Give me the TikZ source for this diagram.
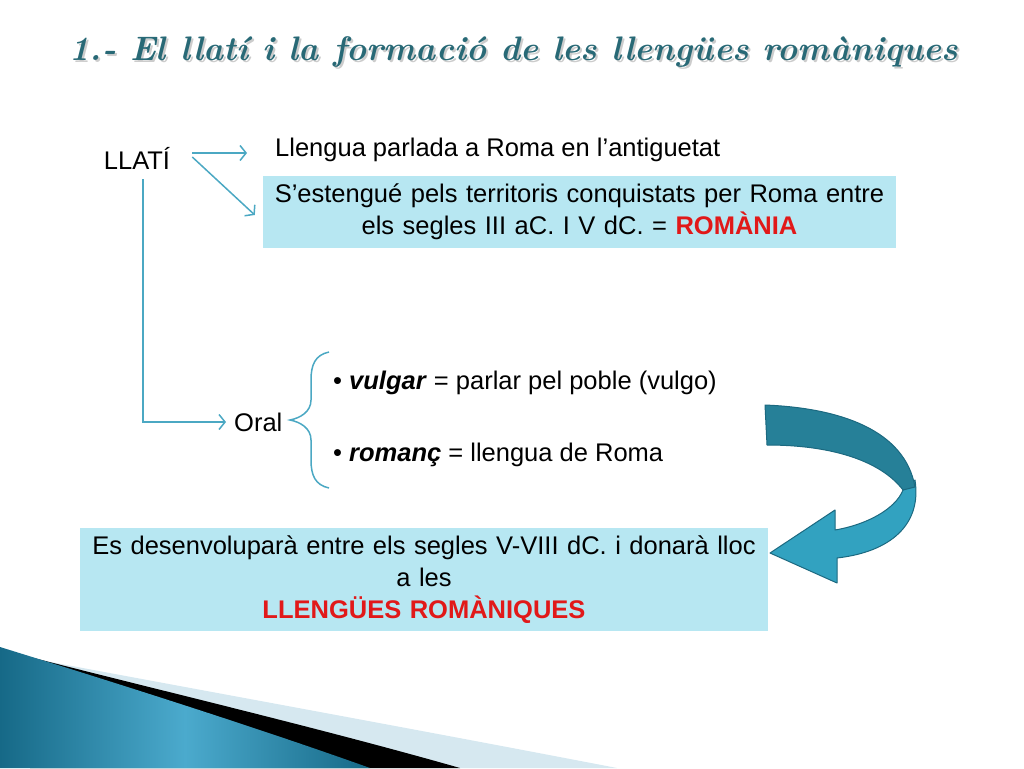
\documentclass[tikz,border=0pt]{standalone}
\usepackage{fontspec}
\setsansfont{Liberation Sans}
\usepackage{xcolor}
\usepackage{tikz}
\usetikzlibrary{positioning,arrows.meta}
\definecolor{titol}{RGB}{40,105,118}
\definecolor{fletxa}{RGB}{75,168,195}
\definecolor{caixa}{RGB}{183,231,242}
\definecolor{vermell}{RGB}{225,25,25}
\definecolor{cinta}{RGB}{38,128,152}
\definecolor{cintaclar}{RGB}{50,162,192}
\definecolor{vora}{RGB}{28,105,128}
\definecolor{onaclar}{RGB}{214,232,240}
\definecolor{onafosc}{RGB}{22,105,135}
\definecolor{onamig}{RGB}{75,170,205}
\newcommand{\destaca}[1]{\textcolor{vermell}{\textbf{#1}}}
\tikzstyle{lletra}=[font=\sffamily\fontsize{25.5}{32}\selectfont, inner sep=0pt]
\tikzstyle{quadre}=[lletra, fill=caixa, align=center]
\tikzstyle{enllac}=[draw=fletxa, line width=1.5pt, -{Straight Barb[length=6pt,width=15pt]}]
\tikzstyle{capcalera}=[font=\rmfamily\bfseries\itshape\fontsize{34}{40}\selectfont]

\begin{document}
\begin{tikzpicture}[x=1pt,y=-1pt]
        \useasboundingbox (0,0) rectangle (1024,768);
        % titol amb ombra
        \node [capcalera, text=black!20] at (516,54) {1.- El llatí i la formació de les llengües romàniques};
        \node (titol) [capcalera, text=titol] at (514,52) {1.- El llatí i la formació de les llengües romàniques};

        % onada inferior
        \fill[onaclar] (40,660) .. controls (200,690) and (420,730) .. (617,768) -- (40,768) -- cycle;
        \fill[black] (30,657) .. controls (150,688) and (320,728) .. (460,768) -- (30,768) -- cycle;
        \shade[left color=onafosc, right color=onafosc, middle color=onamig]
          (0,647) .. controls (100,678) and (250,725) .. (370,768) -- (0,768) -- cycle;

        \node (llati) [lletra] at (137,158) {LLATÍ};
        \node (parlada) [lletra, anchor=west] at (275,150) {Llengua parlada a Roma en l’antiguetat};
        \node (estes) [quadre, text width=633pt, minimum height=72pt] at (579.5,212)
        {
          S’estengué pels territoris conquistats per Roma entre\\
          els segles III aC. I V dC. = \destaca{ROMÀNIA}
        };
        \node (oral) [lletra, anchor=west] at (234,422) {Oral};
        \node (vulgar) [lletra, anchor=west] at (333,383)
          {\textbullet\ \textbf{\textit{vulgar}} = parlar pel poble (vulgo)};
        \node (romanc) [lletra, below=72pt of vulgar.west, anchor=west]
          {\textbullet\ \textbf{\textit{romanç}} = llengua de Roma};
        \node (romaniques) [quadre, text width=688pt, minimum height=103pt] at (424,579.5)
        {
          Es desenvoluparà entre els segles V-VIII dC. i donarà lloc\\
          a les\\
          \destaca{LLENGÜES ROMÀNIQUES}
        };

        % fletxes
        \draw[enllac] ([xshift=22pt,yshift=5pt]llati.east) -- ([xshift=-28pt,yshift=-3pt]parlada.west);
        \draw[enllac] ([xshift=22pt,yshift=1pt]llati.east) -- ([xshift=-8pt,yshift=-3pt]estes.west);
        \draw[enllac] ([xshift=6pt,yshift=-10pt]llati.south) |- ([xshift=-8pt]oral.west);

        % clau
        \draw[fletxa, line width=1.5pt] (329,352) .. controls (315,355) and (311,365) .. (311,380)
          -- (311,400) .. controls (311,412) and (300,418) .. (290,420)
          .. controls (300,422) and (311,428) .. (311,440) -- (311,460)
          .. controls (311,475) and (315,485) .. (329,488);

        % fletxa corbada
        \filldraw[fill=cintaclar, draw=vora, line width=1pt, line join=round]
          (915,480) .. controls (922,525) and (890,552) .. (837,558) -- (837,583) -- (770,553)
          -- (835,510) -- (835,530) .. controls (865,525) and (895,510) .. (903,490) -- cycle;
        \filldraw[fill=cinta, draw=vora, line width=1pt, line join=round]
          (765,405) .. controls (840,408) and (905,430) .. (915,487) -- (903,490)
          .. controls (880,460) and (830,445) .. (767,445) -- cycle;
      \end{tikzpicture}
\end{document}
